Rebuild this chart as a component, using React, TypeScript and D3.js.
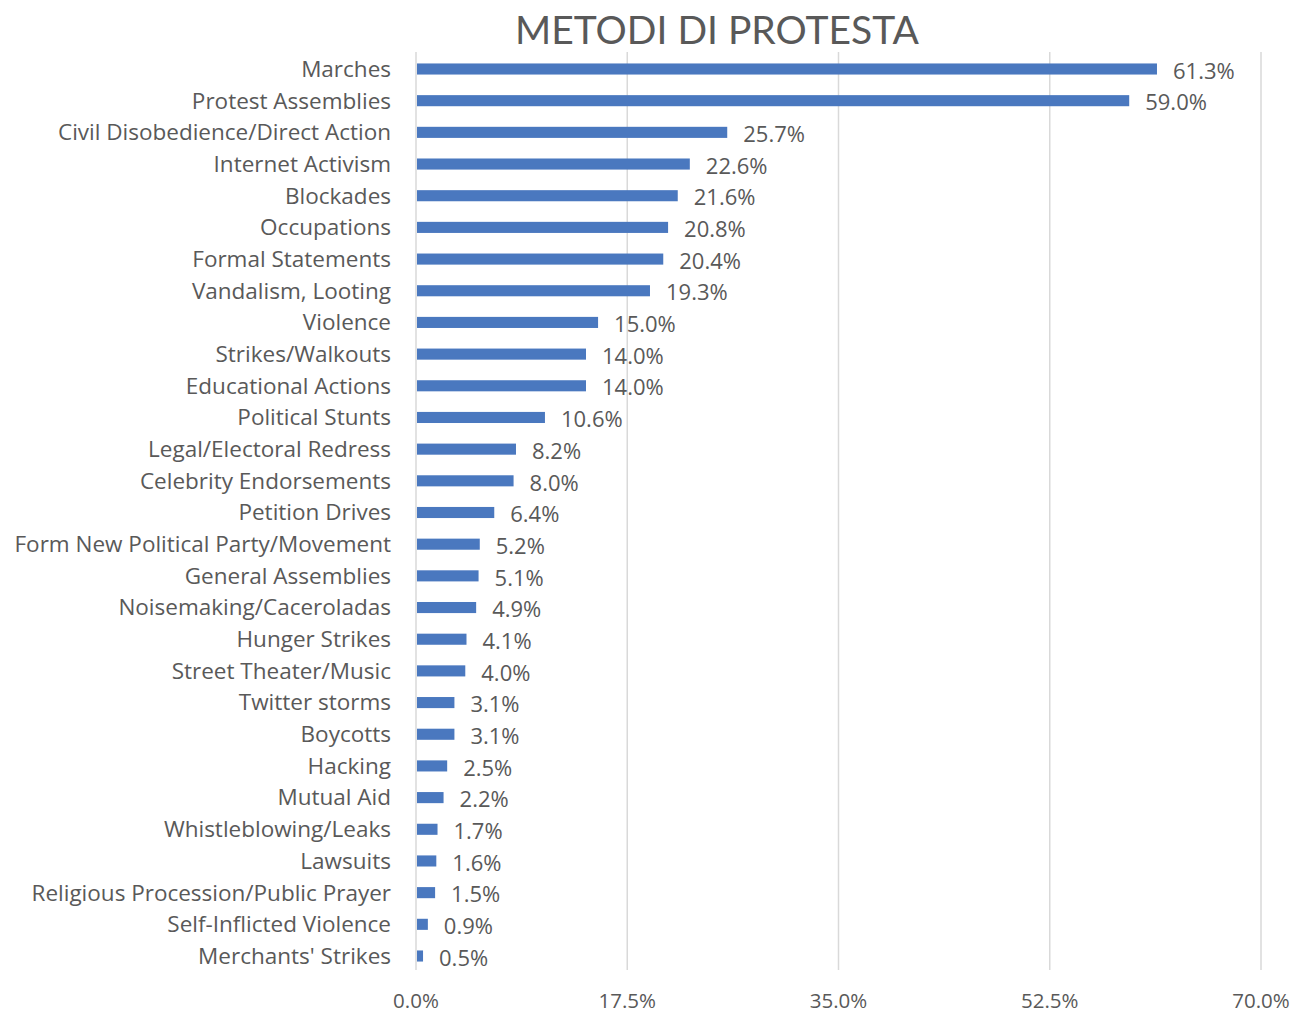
import React from "react";
import * as d3 from "d3";

const categories = [
  "Marches", "Protest Assemblies", "Civil Disobedience/Direct Action", "Internet Activism",
  "Blockades", "Occupations", "Formal Statements", "Vandalism, Looting", "Violence",
  "Strikes/Walkouts", "Educational Actions", "Political Stunts", "Legal/Electoral Redress",
  "Celebrity Endorsements", "Petition Drives", "Form New Political Party/Movement",
  "General Assemblies", "Noisemaking/Caceroladas", "Hunger Strikes", "Street Theater/Music",
  "Twitter storms", "Boycotts", "Hacking", "Mutual Aid", "Whistleblowing/Leaks", "Lawsuits",
  "Religious Procession/Public Prayer", "Self-Inflicted Violence", "Merchants' Strikes",
];
const values = [
  61.3, 59.0, 25.7, 22.6, 21.6, 20.8, 20.4, 19.3, 15.0, 14.0, 14.0, 10.6, 8.2, 8.0, 6.4,
  5.2, 5.1, 4.9, 4.1, 4.0, 3.1, 3.1, 2.5, 2.2, 1.7, 1.6, 1.5, 0.9, 0.5,
];
const ticks = [0, 17.5, 35, 52.5, 70];
const title = "METODI DI PROTESTA";

export default function App() {
  const W = 1305, H = 1014;
  const x = d3.scaleLinear().domain([0, 70]).range([416, 1261]);
  const step = (956 - 69) / 28;
  const y = d3.scaleBand<string>().domain(categories).range([69 - step / 2, 956 + step / 2]).paddingInner(0.65).paddingOuter(0.325);
  const font = "'Open Sans', sans-serif";
  const gray = "#595959";
  return (
    <svg width={W} height={H} style={{ position: "absolute", left: 0, top: 0, background: "#fff" }} fontFamily={font}>
      <text x={717} y={44} textAnchor="middle" fontSize={39} fill={gray} fontFamily="Lato, sans-serif">{title}</text>
      {ticks.map((t) => (
        <g key={t}>
          <line x1={x(t)} x2={x(t)} y1={52} y2={970} stroke="#d9d9d9" strokeWidth={1.5} />
          <text x={x(t)} y={1008} textAnchor="middle" fontSize={20.5} fill={gray}>{t.toFixed(1) + "%"}</text>
        </g>
      ))}
      {categories.map((c, i) => {
        const yc = (y(c) as number) + y.bandwidth() / 2;
        return (
          <g key={c}>
            <text x={391} y={yc} dy="0.35em" textAnchor="end" fontSize={22.5} fill={gray}>{c}</text>
            <rect x={x(0) + 1} y={y(c)} width={x(values[i]) - x(0)} height={y.bandwidth()} fill="#4a78bf" />
            <text x={x(values[i]) + 17} y={yc + 2} dy="0.35em" fontSize={22} fill={gray}>{values[i].toFixed(1) + "%"}</text>
          </g>
        );
      })}
    </svg>
  );
}
